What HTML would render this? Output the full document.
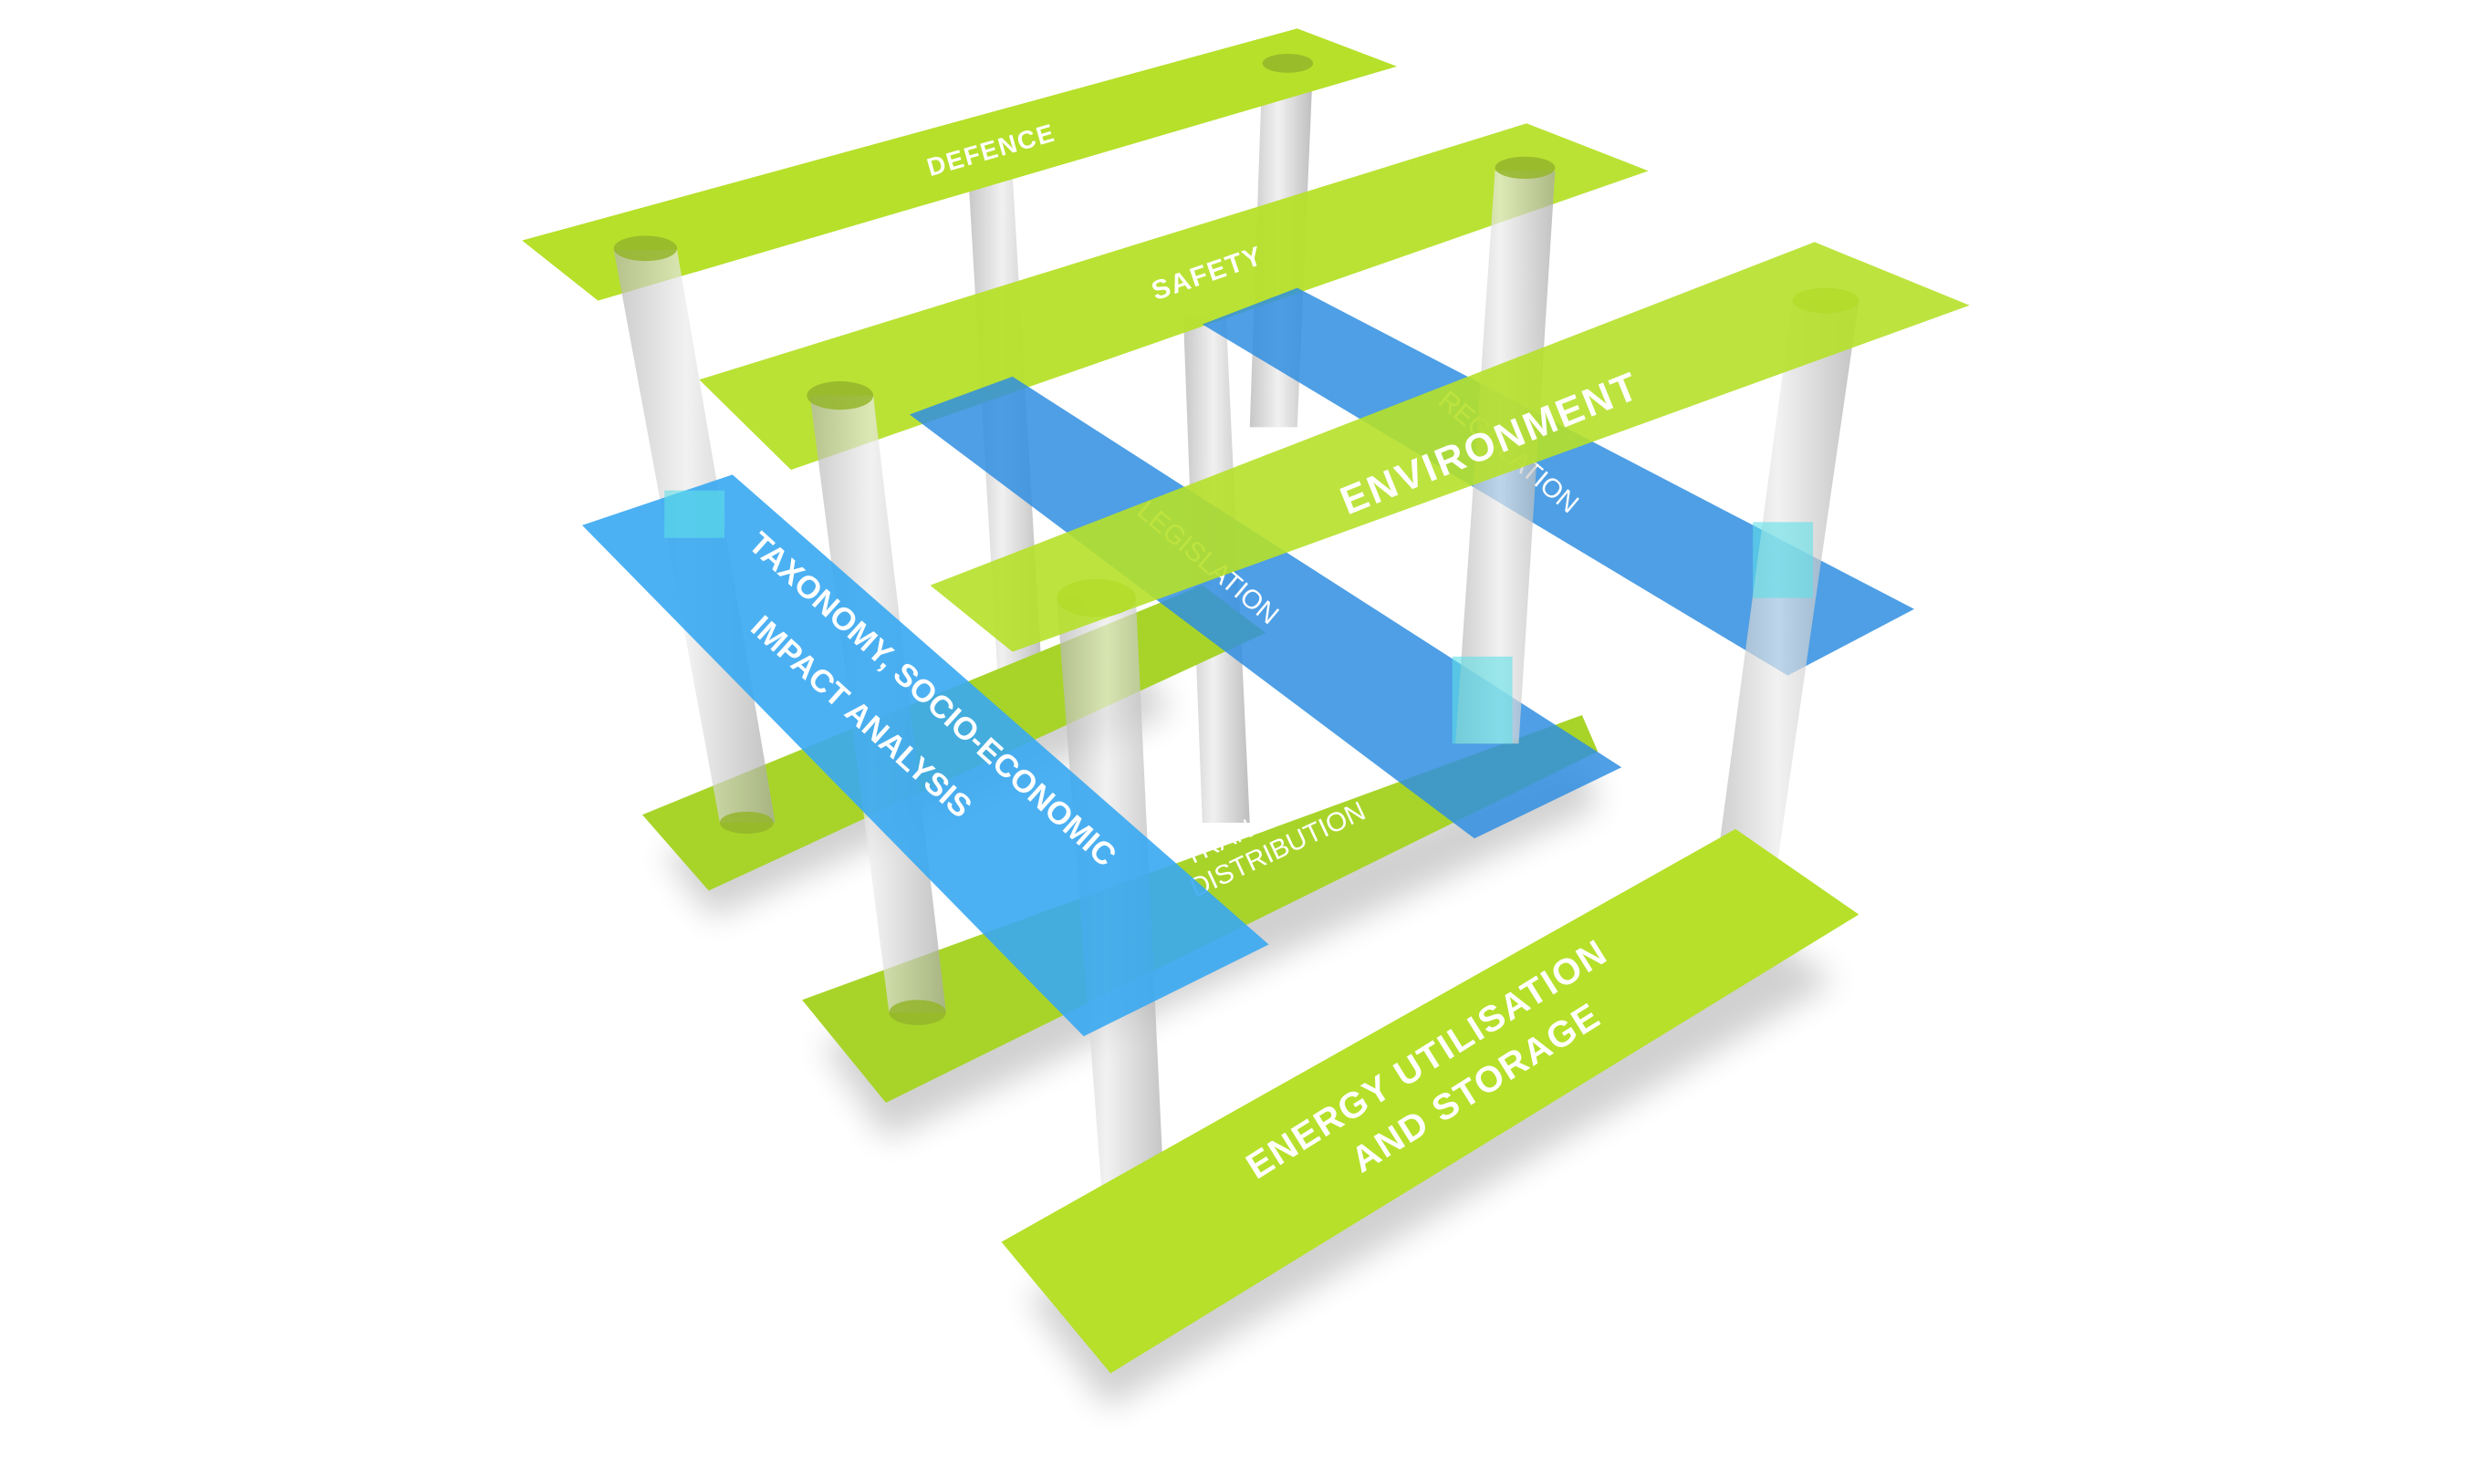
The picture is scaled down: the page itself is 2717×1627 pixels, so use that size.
<!DOCTYPE html>
<html><head><meta charset="utf-8"><style>
html,body{margin:0;padding:0;background:#fff;}
svg{display:block}
text{font-family:"Liberation Sans",sans-serif;fill:#fff;}
</style></head><body>
<svg width="2717" height="1627" viewBox="0 0 1567 938" preserveAspectRatio="none" xmlns="http://www.w3.org/2000/svg">
<defs>
<filter id="bl" x="-20%" y="-20%" width="140%" height="140%"><feGaussianBlur stdDeviation="10"/></filter>
<linearGradient id="pg" x1="0" x2="1" y1="0" y2="0">
<stop offset="0" stop-color="#b5b5b5"/><stop offset="0.45" stop-color="#ececec"/><stop offset="1" stop-color="#a8a8a8"/></linearGradient>
</defs>
<g fill="#000" opacity="0.18" filter="url(#bl)">
<polygon points="650,820 1100,580 1160,620 700,890"/>
<polygon points="520,660 1000,480 1010,510 560,720"/>
<polygon points="420,540 720,420 740,450 450,580"/>
</g>
<g fill="url(#pg)" opacity="0.75">
<polygon points="798,40 830,40 820,270 790,270"/>
<polygon points="612,110 640,110 660,450 632,450"/>
<polygon points="748,200 775,200 790,520 760,520"/>
</g>
<polygon points="330,152 820,18 883,42 378,190" fill="#b6e02a"/>
<text x="628" y="100" font-size="16" font-weight="bold" transform="rotate(-16 628 100)" text-anchor="middle" letter-spacing="1">DEFENCE</text>
<polygon points="406,515 760,370 800,400 448,563" fill="#a8d42a"/>
<polygon points="507,632 1000,452 1010,475 560,697" fill="#a8d42a"/>
<text x="810" y="520" font-size="17" transform="rotate(-25 810 520)" text-anchor="middle" fill="#dce9a0">TRANSMISSION</text>
<text x="810" y="542" font-size="17" transform="rotate(-25 810 542)" text-anchor="middle" fill="#dce9a0">DISTRIBUTION</text>
<polygon points="442,240 965,78 1042,108 500,297" fill="#b6e02a" opacity="0.95"/>
<text x="765" y="178" font-size="17" font-weight="bold" transform="rotate(-19 765 178)" text-anchor="middle" letter-spacing="1">SAFETY</text>
<polygon points="760,205 820,182 1210,385 1130,427" fill="#2f8ee0" opacity="0.85"/>
<polygon points="575,262 640,238 1025,485 932,530" fill="#2f8ee0" opacity="0.85"/>
<text x="760" y="360" font-size="17" transform="rotate(40 760 360)" text-anchor="middle" fill="#9fd0c0">LEGISLATION</text>
<text x="950" y="290" font-size="17" transform="rotate(40 950 290)" text-anchor="middle" fill="#9fd0c0">REGULATION</text>
<g fill="url(#pg)" opacity="0.7">
<polygon points="388,158 428,158 490,520 455,520"/>
<polygon points="512,250 552,250 598,640 562,640"/>
<polygon points="945,108 983,108 960,470 920,470"/>
<polygon points="1133,190 1175,190 1120,570 1082,570"/>
<polygon points="668,378 718,378 738,800 700,800"/>
</g>
<g fill="#94b52a" opacity="0.85">
<ellipse cx="408" cy="157" rx="20" ry="8"/><ellipse cx="531" cy="250" rx="21" ry="9"/>
<ellipse cx="964" cy="106" rx="19" ry="7"/><ellipse cx="1154" cy="190" rx="21" ry="8"/>
<ellipse cx="814" cy="40" rx="16" ry="6"/><ellipse cx="693" cy="378" rx="25" ry="12"/>
<ellipse cx="719" cy="802" rx="20" ry="9"/><ellipse cx="1100" cy="572" rx="18" ry="8"/>
<ellipse cx="580" cy="640" rx="18" ry="8"/><ellipse cx="472" cy="520" rx="17" ry="7"/>
</g>
<polygon points="588,370 1147,153 1245,193 640,412" fill="#b6e02a" opacity="0.9"/>
<text x="945" y="288" font-size="25" font-weight="bold" transform="rotate(-22 945 288)" text-anchor="middle" letter-spacing="1.5">ENVIRONMENT</text>
<polygon points="368,332 463,300 802,597 685,655" fill="#39a8f2" opacity="0.9"/>
<text x="585" y="447" font-size="20" font-weight="bold" transform="rotate(42 585 447)" text-anchor="middle">TAXONOMY, SOCIO-ECONOMIC</text>
<text x="540" y="458" font-size="20" font-weight="bold" transform="rotate(42 540 458)" text-anchor="middle">IMPACT ANALYSIS</text>
<g fill="#5fe0e8" opacity="0.6">
<rect x="420" y="310" width="38" height="30"/><rect x="1108" y="330" width="38" height="48"/><rect x="918" y="415" width="38" height="55"/>
</g>
<polygon points="633,785 1097,524 1175,578 702,868" fill="#b6e02a"/>
<text x="906" y="676" font-size="23" font-weight="bold" transform="rotate(-32 906 676)" text-anchor="middle" letter-spacing="1">ENERGY UTILISATION</text>
<text x="937" y="694" font-size="23" font-weight="bold" transform="rotate(-32 937 694)" text-anchor="middle" letter-spacing="1">AND STORAGE</text>
</svg>
</body></html>
